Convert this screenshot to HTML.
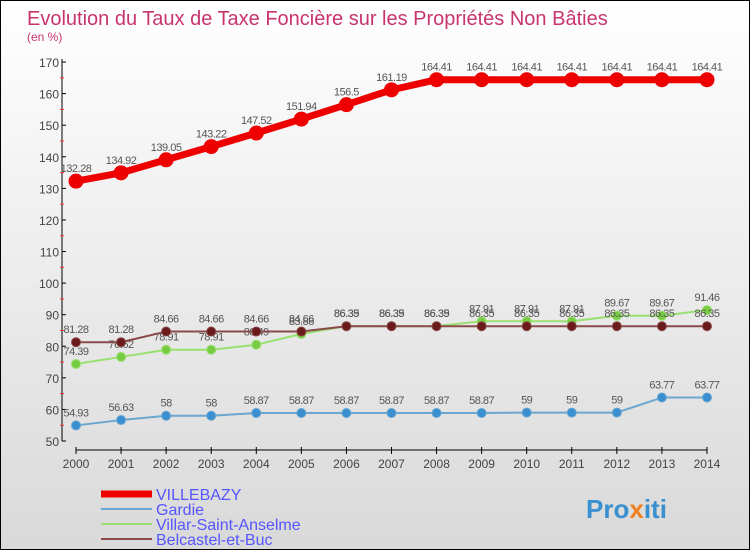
<!DOCTYPE html>
<html><head><meta charset="utf-8"><style>
body{margin:0;}
#wrap{width:748px;height:548px;border:1px solid #000;position:relative;overflow:hidden;background:linear-gradient(#fff,#d9d9d9);font-family:"Liberation Sans",sans-serif;}
</style></head><body>
<div id="wrap">
<svg id="svg" width="748" height="548" xmlns="http://www.w3.org/2000/svg">
<text x="26" y="24" font-size="20" fill="#c8346e">Evolution du Taux de Taxe Foncière sur les Propriétés Non Bâties</text>
<text x="26" y="40" font-size="12" fill="#c8346e">(en %)</text>
<g id="axes"></g><g id="series"></g>
<g>
<line x1="100" y1="493" x2="151" y2="493" stroke="#e00" stroke-width="7"/>
<text x="155" y="499" font-size="16" fill="#55f">VILLEBAZY</text>
<line x1="100" y1="508" x2="151" y2="508" stroke="#6aa6d0" stroke-width="2"/>
<text x="155" y="514" font-size="16" fill="#55f">Gardie</text>
<line x1="100" y1="523" x2="151" y2="523" stroke="#99e070" stroke-width="2"/>
<text x="155" y="529" font-size="16" fill="#55f">Villar-Saint-Anselme</text>
<line x1="100" y1="538" x2="151" y2="538" stroke="#8b4a4a" stroke-width="2"/>
<text x="155" y="544" font-size="16" fill="#55f">Belcastel-et-Buc</text>
</g>
<text x="585" y="517" font-size="26" font-weight="bold" fill="#3a8fd0">Pro<tspan fill="#f08020">x</tspan>iti</text>
</svg>
</div>
<script>
const years=[2000,2001,2002,2003,2004,2005,2006,2007,2008,2009,2010,2011,2012,2013,2014];
const villebazy=[132.28,134.92,139.05,143.22,147.52,151.94,156.5,161.19,164.41,164.41,164.41,164.41,164.41,164.41,164.41];
const gardie=[54.93,56.63,58,58,58.87,58.87,58.87,58.87,58.87,58.87,59,59,59,63.77,63.77];
const villar=[74.39,76.62,78.91,78.91,80.49,83.88,86.39,86.39,86.39,87.91,87.91,87.91,89.67,89.67,91.46];
const belcastel=[81.28,81.28,84.66,84.66,84.66,84.66,86.35,86.35,86.35,86.35,86.35,86.35,86.35,86.35,86.35];
const yTicks=[50,60,70,80,90,100,110,120,130,140,150,160,170];
const NS="http://www.w3.org/2000/svg";
const X=i=>75+i*45.07;
const Y=v=>440-(v-50)*3.158;
function mk(t,a,p){const e=document.createElementNS(NS,t);for(const k in a)e.setAttribute(k,a[k]);p.appendChild(e);return e;}
const ax=document.getElementById('axes');
const yl=mk('line',{x1:61,y1:58,x2:61,y2:440,stroke:'#000'},ax);


yTicks.forEach(t=>{
 mk('line',{x1:61,y1:Y(t),x2:65,y2:Y(t),stroke:'#000'},ax);
 if(t<170)mk('line',{x1:59,y1:Y(t+5),x2:63,y2:Y(t+5),stroke:'#f33'},ax);
 const tx=mk('text',{x:58,y:Y(t)+5,'font-size':12,fill:'#444','text-anchor':'end'},ax);tx.textContent=t;
 
 
});
const xl=mk('line',{x1:75,y1:449,x2:X(14),y2:449,stroke:'#000'},ax);


years.forEach((y,i)=>{
 mk('line',{x1:X(i),y1:446,x2:X(i),y2:453,stroke:'#000'},ax);
 const tx=mk('text',{x:X(i),y:467,'font-size':12,fill:'#444','text-anchor':'middle'},ax);tx.textContent=y;
 
 
});
const sg=document.getElementById('series');
function draw(name,vals,color,w,r,fill){
 const g=mk('g',{},sg);
 
 
 mk('polyline',{points:vals.map((v,i)=>X(i)+','+Y(v)).join(' '),fill:'none',stroke:color,'stroke-width':w,'stroke-linejoin':'round'},g);
 vals.forEach((v,i)=>{
  const c=mk('circle',{cx:X(i),cy:Y(v),r:r,fill:fill,stroke:color,'stroke-width':1},g);
  
  
  const t=mk('text',{x:X(i),y:Y(v)-9,'font-size':11,fill:'#555','text-anchor':'middle','letter-spacing':'-0.5'},g);t.textContent=v;
 });
}
draw('series-gardie',gardie,'#6aa6d0',2,4.5,'#3a8fd0');
draw('series-villar',villar,'#99e070',2,4.5,'#77cc44');
draw('series-belcastel',belcastel,'#8b4a4a',2,4.5,'#6a1a1a');
draw('series-villebazy',villebazy,'#e00',7,7,'#e00');
</script>
</body></html>
